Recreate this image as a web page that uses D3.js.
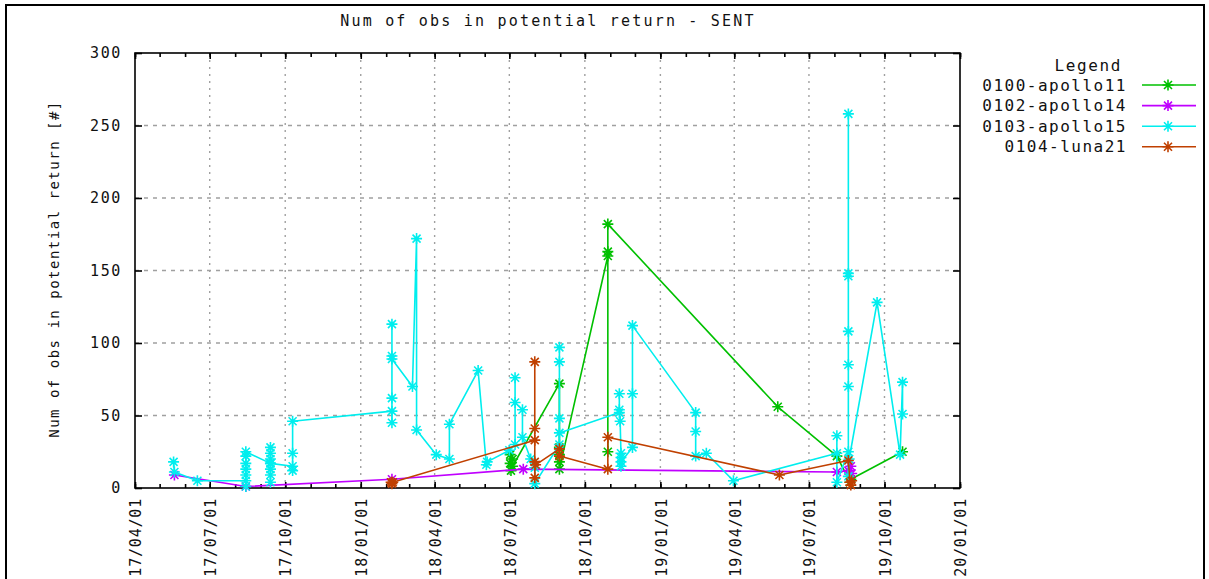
<!DOCTYPE html>
<html>
<head>
<meta charset="utf-8">
<script src="https://cdn.jsdelivr.net/npm/d3@7"></script>
<style>
  html, body { margin: 0; padding: 0; background: #fff; }
  svg { display: block; }
  .mono { font-family: "DejaVu Sans Mono", "Liberation Mono", monospace; fill: #111; }
</style>
</head>
<body>
<svg id="chart" width="1209" height="579"></svg>
<script>
// ---- data ----
const chartTitle = "Num of obs in potential return - SENT";
const yAxisTitle = "Num of obs in potential return [#]";
const legendTitle = "Legend";
const seriesNames = ["0100-apollo11", "0102-apollo14", "0103-apollo15", "0104-luna21"];
const seriesColors = ["#00c000", "#c000ff", "#00eeee", "#c04000"];
const yTickValues = [0, 50, 100, 150, 200, 250, 300];

const apollo11Dates = ["2018-07-02","2018-07-02","2018-07-03","2018-07-05","2018-07-05",
  "2018-08-31","2018-08-31","2018-08-31","2018-08-31","2018-08-31",
  "2018-10-29","2018-10-29","2018-10-29","2018-10-29",
  "2019-05-24","2019-08-04","2019-08-20","2019-08-21","2019-10-23"];
const apollo11Values = [23, 17, 12, 20, 15,
  72, 28, 23, 18, 13,
  160, 163, 25, 182,
  56, 22, 4, 6, 25];

const apollo14Dates = ["2017-05-19","2017-08-14","2018-02-08","2018-07-18",
  "2019-08-04","2019-08-18","2019-08-21","2019-08-22"];
const apollo14Values = [9, 1, 6, 13, 11, 12, 15, 10];

const apollo15Dates = [
  "2017-05-18","2017-05-19","2017-06-16",
  "2017-08-14","2017-08-14","2017-08-14","2017-08-14","2017-08-14","2017-08-14","2017-08-14",
  "2017-09-13","2017-09-13","2017-09-13","2017-09-13","2017-09-13","2017-09-13","2017-09-13","2017-09-13",
  "2017-10-10","2017-10-10","2017-10-10","2017-10-10",
  "2018-02-08","2018-02-08","2018-02-08","2018-02-08","2018-02-08","2018-02-08",
  "2018-03-05","2018-03-10","2018-03-10",
  "2018-04-03","2018-04-19","2018-04-19","2018-05-24","2018-06-03","2018-06-04",
  "2018-07-01","2018-07-08","2018-07-08","2018-07-08","2018-07-17","2018-07-17",
  "2018-07-27","2018-08-01","2018-08-01",
  "2018-08-31","2018-08-31","2018-08-31","2018-08-31","2018-08-31",
  "2018-11-12","2018-11-12","2018-11-12","2018-11-13",
  "2018-11-14","2018-11-14","2018-11-14","2018-11-14",
  "2018-11-28","2018-11-28","2018-11-28",
  "2019-02-13","2019-02-13","2019-02-13","2019-02-26","2019-03-31",
  "2019-08-04","2019-08-04","2019-08-04",
  "2019-08-18","2019-08-18","2019-08-18","2019-08-18","2019-08-18","2019-08-18","2019-08-18","2019-08-18",
  "2019-08-19","2019-09-22","2019-10-20","2019-10-23","2019-10-23"];
const apollo15Values = [
  18, 11, 5,
  5, 1, 9, 13, 17, 22, 25,
  17, 28, 24, 20, 13, 9, 4, 17,
  15, 12, 24, 46,
  53, 45, 62, 113, 91, 89,
  70, 172, 40,
  23, 20, 44, 81, 16, 18,
  26, 30, 76, 59, 54, 35,
  20, 14, 3,
  30, 97, 87, 48, 38,
  52, 65, 54, 46,
  24, 21, 15, 18,
  28, 65, 112,
  52, 39, 22, 24, 5,
  24, 36, 4,
  25, 258, 148, 146, 108, 85, 70, 8,
  20, 128, 23, 73, 51];

const luna21Dates = ["2018-02-07","2018-02-08","2018-02-09",
  "2018-08-01","2018-08-01","2018-08-01","2018-08-01","2018-08-01","2018-08-02",
  "2018-08-31","2018-08-31","2018-10-29","2018-10-29",
  "2019-05-26","2019-08-18","2019-08-20","2019-08-21","2019-08-22"];
const luna21Values = [4, 3, 4,
  33, 41, 87, 7, 18, 16,
  27, 22, 13, 35,
  9, 19, 4, 2, 5];

const xDomain = ["2017-04-01", "2020-01-01"];

// ---- layout ----
const plot = { left: 135, right: 960, top: 53, bottom: 488 };
const svg = d3.select("#chart");
const parse = d3.utcParse("%Y-%m-%d");

const x = d3.scaleUtc().domain(xDomain.map(parse)).range([plot.left, plot.right]);
const y = d3.scaleLinear().domain([0, 300]).range([plot.bottom, plot.top]);

// outer frame
svg.append("rect").attr("x", 6).attr("y", 5).attr("width", 1198).attr("height", 620)
  .attr("fill", "none").attr("stroke", "#000").attr("stroke-width", 2);

// title
svg.append("text").attr("class", "mono")
  .attr("x", 548).attr("y", 26).attr("text-anchor", "middle")
  .style("font-size", "15px").style("letter-spacing", "2.2px")
  .text(chartTitle);

// y axis title
svg.append("text").attr("class", "mono")
  .attr("transform", "translate(59,269) rotate(-90)")
  .attr("text-anchor", "middle")
  .style("font-size", "14px").style("letter-spacing", "1.5px")
  .text(yAxisTitle);

// grid
const majorX = x.ticks(d3.utcMonth.every(3));
const minorX = x.ticks(d3.utcMonth.every(1));
const grid = svg.append("g").attr("stroke", "#a0a0a0").attr("stroke-width", 1.4);
grid.selectAll("line.gy").data(yTickValues.filter(v => v > 0 && v < 300)).join("line")
  .attr("x1", plot.left).attr("x2", plot.right)
  .attr("y1", d => y(d)).attr("y2", d => y(d))
  .attr("stroke-dasharray", "4,5");
grid.selectAll("line.gx").data(majorX.filter((d, i) => i > 0 && i < majorX.length - 1)).join("line")
  .attr("y1", plot.top).attr("y2", plot.bottom)
  .attr("x1", d => x(d)).attr("x2", d => x(d))
  .attr("stroke-dasharray", "2,5");

// axes (ticks on all four sides, pointing inward)
const fmt = d3.utcFormat("%y/%m/%d");
const axisBottom = d3.axisBottom(x).tickValues(majorX).tickSize(-6).tickFormat("");
const axisTop = d3.axisTop(x).tickValues(majorX).tickSize(-6).tickFormat("");
const axisLeft = d3.axisLeft(y).tickValues(yTickValues).tickSize(-7).tickFormat("");
const axisRight = d3.axisRight(y).tickValues(yTickValues).tickSize(-7).tickFormat("");
const minorBottom = d3.axisBottom(x).tickValues(minorX).tickSize(-4).tickFormat("");
const minorTop = d3.axisTop(x).tickValues(minorX).tickSize(-4).tickFormat("");

function styleAxis(g) {
  g.select(".domain").remove();
  g.selectAll("line").attr("stroke", "#000").attr("stroke-width", 1.6);
}
svg.append("g").attr("transform", `translate(0,${plot.bottom})`).call(axisBottom).call(styleAxis);
svg.append("g").attr("transform", `translate(0,${plot.top})`).call(axisTop).call(styleAxis);
svg.append("g").attr("transform", `translate(0,${plot.bottom})`).call(minorBottom).call(styleAxis);
svg.append("g").attr("transform", `translate(0,${plot.top})`).call(minorTop).call(styleAxis);
svg.append("g").attr("transform", `translate(${plot.left},0)`).call(axisLeft).call(styleAxis);
svg.append("g").attr("transform", `translate(${plot.right},0)`).call(axisRight).call(styleAxis);

// tick labels
svg.append("g").selectAll("text").data(yTickValues).join("text")
  .attr("class", "mono")
  .attr("x", 122).attr("y", d => y(d)).attr("dy", "0.35em")
  .attr("text-anchor", "end")
  .style("font-size", "15px").style("letter-spacing", "1.6px")
  .text(d => d);
svg.append("g").selectAll("text").data(majorX).join("text")
  .attr("class", "mono")
  .attr("transform", d => `translate(${x(d) + 1},498) rotate(-90)`)
  .attr("dy", "0.35em").attr("text-anchor", "end")
  .style("font-size", "15px").style("letter-spacing", "0.8px")
  .text(d => fmt(d));

// plot frame
svg.append("rect")
  .attr("x", plot.left).attr("y", plot.top)
  .attr("width", plot.right - plot.left).attr("height", plot.bottom - plot.top)
  .attr("fill", "none").attr("stroke", "#000").attr("stroke-width", 1.6);

// series
const series = [
  { dates: apollo11Dates, values: apollo11Values },
  { dates: apollo14Dates, values: apollo14Values },
  { dates: apollo15Dates, values: apollo15Values },
  { dates: luna21Dates, values: luna21Values }
].map((s, i) => ({
  name: seriesNames[i],
  color: seriesColors[i],
  points: s.dates.map((d, j) => ({ date: parse(d), value: s.values[j] }))
}));

const starPath = "M-5.5,0H5.5M0,-5.5V5.5M-4,-4L4,4M-4,4L4,-4";
const line = d3.line().x(d => x(d.date)).y(d => y(d.value));

const layer = svg.append("g");
series.forEach(s => {
  const g = layer.append("g");
  g.append("path").attr("d", line(s.points))
    .attr("fill", "none").attr("stroke", s.color).attr("stroke-width", 1.6)
    .attr("stroke-linejoin", "round");
  g.selectAll("path.pt").data(s.points).join("path")
    .attr("class", "pt")
    .attr("transform", d => `translate(${x(d.date)},${y(d.value)})`)
    .attr("d", starPath)
    .attr("fill", "none").attr("stroke", s.color).attr("stroke-width", 1.6);
});

// legend
const legend = svg.append("g");
legend.append("text").attr("class", "mono")
  .attr("x", 1122).attr("y", 71).attr("text-anchor", "end")
  .style("font-size", "16px").style("letter-spacing", "1.6px")
  .text(legendTitle);
series.forEach((s, i) => {
  const cy = 85 + i * 20.6;
  legend.append("text").attr("class", "mono")
    .attr("x", 1127).attr("y", cy).attr("dy", "0.35em").attr("text-anchor", "end")
    .style("font-size", "16px").style("letter-spacing", "1.5px")
    .text(s.name);
  legend.append("line")
    .attr("x1", 1142).attr("x2", 1196).attr("y1", cy).attr("y2", cy)
    .attr("stroke", s.color).attr("stroke-width", 1.6);
  legend.append("path")
    .attr("transform", `translate(1168,${cy})`)
    .attr("d", starPath)
    .attr("fill", "none").attr("stroke", s.color).attr("stroke-width", 1.6);
});
</script>
</body>
</html>
